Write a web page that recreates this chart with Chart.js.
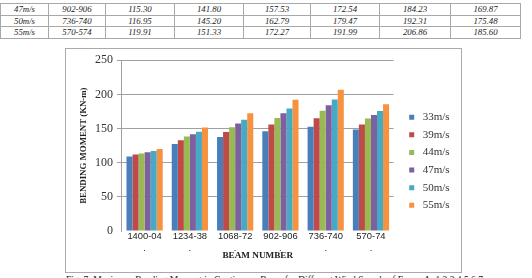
<!DOCTYPE html>
<html>
<head>
<meta charset="utf-8">
<script src="https://cdn.jsdelivr.net/npm/chart.js@4"></script>
<style>
  html, body { margin: 0; padding: 0; background: #fff; width: 532px; height: 278px; overflow: hidden; }
  #tbl { position: absolute; left: 0; top: 3px; border-collapse: collapse; table-layout: fixed;
         font: italic 8.8px "Liberation Serif", serif; color: #222; }
  #tbl td { border: 1px solid #a8a8a8; height: 10.5px; padding: 0; text-align: center; line-height: 10px; }
  #box { position: absolute; left: 65px; top: 48px; width: 397px; height: 225px; box-sizing: border-box;
         border: 1px solid #aaa; }
  #wrap { position: absolute; left: 66px; top: 49px; width: 395px; height: 223px; }
  #caption { position: absolute; left: 66px; top: 274.5px; font: 9.5px "Liberation Serif", serif; color: #222; white-space: nowrap; }
</style>
</head>
<body>
<table id="tbl"></table>
<div id="box"></div>
<div id="wrap"><canvas id="myChart" width="395" height="223"></canvas></div>
<div id="caption">Fig. 7: Maximum Bending Moment in Continuous Beam for Different Wind Speeds of Frame A, 1,2,3,4,5,6,7</div>
<script>
// categories (beam numbers)
var beams = ['1400-04', '1234-38', '1068-72', '902-906', '736-740', '570-74'];
var speeds = ['33m/s', '39m/s', '44m/s', '47m/s', '50m/s', '55m/s'];

// bending moment per wind speed (KN-m)
var s33 = [109.0, 127.5, 137.5, 146.0, 152.5, 148.5];
var s39 = [112.0, 133.0, 145.0, 156.0, 165.0, 156.0];
var s44 = [113.5, 138.5, 152.0, 165.5, 176.0, 164.5];
var s47 = [115.30, 141.80, 157.53, 172.54, 184.23, 169.87];
var s50 = [116.95, 145.20, 162.79, 179.47, 192.31, 175.48];
var s55 = [119.91, 151.33, 172.27, 191.99, 206.86, 185.60];

var yTicks = [0, 50, 100, 150, 200, 250];

// rows of the table above the figure
var tableSpeeds = ['47m/s', '50m/s', '55m/s'];
var tableBeams = ['902-906', '736-740', '570-574'];
var tableValues = [s47, s50, s55];

var colors = ['#4a7ebb', '#be4b48', '#98b954', '#7d60a0', '#46aac5', '#f69240'];
var colWidths = [48, 57, 69, 69, 67, 69, 71, 70];

// build table
var tbl = document.getElementById('tbl');
var cg = document.createElement('colgroup');
colWidths.forEach(function(w) {
    var c = document.createElement('col');
    c.style.width = w + 'px';
    cg.appendChild(c);
});
tbl.appendChild(cg);
tableSpeeds.forEach(function(sp, i) {
    var tr = document.createElement('tr');
    var cells = [sp, tableBeams[i]].concat(tableValues[i].map(function(v) { return v.toFixed(2); }));
    cells.forEach(function(t) {
        var td = document.createElement('td');
        td.textContent = t;
        tr.appendChild(td);
    });
    tbl.appendChild(tr);
});

window.onload = function() {
    var series = [s33, s39, s44, s47, s50, s55];
    var ctx = document.getElementById('myChart').getContext('2d');
    var myChart = new Chart(ctx, {
        type: 'bar',
        data: {
            labels: beams.map(function(b) { return [b, '.']; }),
            datasets: series.map(function(d, i) {
                return {
                    label: speeds[i],
                    data: d,
                    backgroundColor: colors[i],
                    borderWidth: 0,
                    categoryPercentage: 0.8,
                    barPercentage: 1.0
                };
            })
        },
        options: {
            responsive: false,
            animation: false,
            layout: { padding: { left: 8.7, top: 10, right: 1.4, bottom: 8.5 } },
            plugins: {
                tooltip: { enabled: false },
                legend: {
                    position: 'right',
                    labels: {
                        usePointStyle: true,
                        pointStyle: 'rect',
                        boxWidth: 11,
                        boxHeight: 5,
                        padding: 6.6,
                        color: '#333',
                        font: { family: 'Liberation Serif', size: 11 }
                    }
                }
            },
            scales: {
                x: {
                    grid: { display: false, drawTicks: false },
                    border: { display: false },
                    ticks: {
                        padding: -1,
                        color: '#222',
                        maxRotation: 0,
                        autoSkip: false,
                        font: { family: 'Liberation Sans', size: 9.4, lineHeight: 1.3 }
                    },
                    title: {
                        display: true,
                        text: 'BEAM NUMBER',
                        color: '#222',
                        padding: { top: -3, bottom: 2 },
                        font: { family: 'Liberation Serif', size: 9.2, weight: 'bold' }
                    }
                },
                y: {
                    min: 0,
                    max: 250,
                    afterBuildTicks: function(axis) {
                        axis.ticks = yTicks.map(function(v) { return { value: v }; });
                    },
                    grid: {
                        color: function(c) { return c.tick && c.tick.value === 0 ? 'rgba(0,0,0,0)' : '#a0a0a0'; },
                        tickLength: 5
                    },
                    border: { color: '#a0a0a0' },
                    ticks: {
                        padding: 4,
                        color: '#333',
                        font: { family: 'Liberation Serif', size: 12 }
                    },
                    title: {
                        display: true,
                        text: 'BENDING MOMENT (KN-m)',
                        color: '#222',
                        padding: { top: 4, bottom: 1.7 },
                        font: { family: 'Liberation Serif', size: 8.8, weight: 'bold' }
                    }
                },
                // thin spacer between the plot and the legend
                yPad: {
                    position: 'right',
                    display: true,
                    grid: { display: false, drawTicks: false },
                    border: { display: false },
                    ticks: { display: false },
                    afterFit: function(s) { s.width = 6; }
                }
            }
        }
    });
};
</script>
</body>
</html>
